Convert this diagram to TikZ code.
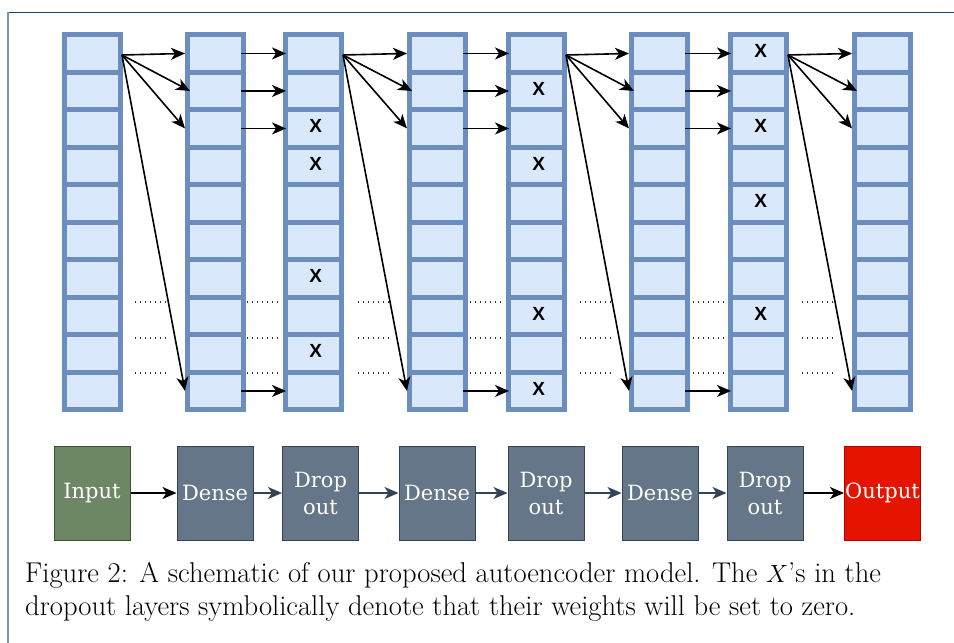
\documentclass[tikz,border=0pt]{standalone}
\usepackage{fontspec}
\usetikzlibrary{arrows.meta,calc}
\newfontfamily\boxfont{DejaVu Serif}
\newfontfamily\xfont{Liberation Sans}
\definecolor{cellfill}{HTML}{DAE8FC}
\definecolor{cellborder}{HTML}{6C8EBF}
\definecolor{slatefill}{HTML}{647687}
\definecolor{slatedark}{HTML}{314354}
\definecolor{greenfill}{HTML}{6D8764}
\definecolor{greendark}{HTML}{3A5431}
\definecolor{redfill}{HTML}{E51400}
\definecolor{reddark}{HTML}{B20000}
\definecolor{frametop}{HTML}{1B4679}
\definecolor{frameleft}{HTML}{8093AD}
\begin{document}
\begin{tikzpicture}[x=1pt,y=-1pt,
  colbox/.style={draw=none, fill=cellborder, minimum width=61pt, minimum height=380pt, inner sep=0pt, anchor=north west},
  cellbox/.style={fill=cellfill, minimum width=51pt, minimum height=32.5pt, inner sep=0pt, anchor=north west},
  xmark/.style={font=\xfont\bfseries\fontsize{19}{19}\selectfont, inner sep=0pt},
  link/.style={line width=1.6pt, -{Stealth[length=14pt,width=12pt,inset=4pt]}},
  dotrow/.style={line width=1.3pt, dash pattern=on 1.4pt off 3.6pt, black!80},
  layer/.style={minimum width=76pt, minimum height=94pt, inner sep=0pt, draw, line width=1pt, text=white, font=\boxfont\fontsize{21}{27}\selectfont, align=center},
  flow/.style={line width=1.7pt, -{Stealth[length=14pt,width=12pt,inset=4pt]}},
  captext/.style={anchor=base west, inner sep=0pt, font=\fontsize{28.6}{33}\selectfont}
]
\useasboundingbox (0,0) rectangle (954,643);
% frame
\draw[frametop, line width=1.5pt] (7,12.5) -- (954,12.5);
\draw[frameleft, line width=2pt] (7.5,12) -- (7.5,643);
% columns
\foreach \k/\xx in {1/62,2/185,3/283,4/407,5/506,6/629,7/728,8/852} {
  \node[colbox] (col\k) at (\xx,32) {};
  \foreach \j in {1,...,10} {
    \node[cellbox] (c\k-\j) at ({\xx+5},{37+37.5*(\j-1)}) {};
  }
  \coordinate (o\k) at ({\xx+60},55);
}
% X marks
\foreach \k/\j in {3/3,3/4,3/7,3/9,5/2,5/4,5/8,5/10,7/1,7/3,7/5,7/8}
  \node[xmark] (x\k-\j) at ($(c\k-\j.center)+(2,-2)$) {X};
% fan-out arrows
\foreach \a/\b in {1/2,3/4,5/6,7/8} {
  \draw[link] (o\a) -- (col\b.west |- c\b-1.center);
  \draw[link] (o\a) -- (c\b-2.west);
  \draw[link] (o\a) -- (col\b.west |- c\b-3.center);
  \draw[link] (o\a) -- (col\b.west |- c\b-10.center);
}
% straight arrows
\foreach \a/\b in {2/3,4/5,6/7} {
  \foreach \j in {1,2,3,10} {
    \draw[link] (c\a-\j.east) -- ($(col\b.west |- c\a-\j.east)+(3,0)$);
  }
}
% dotted rows
\foreach \xs in {135,247,358,470,580,693,802} {
  \foreach \yy in {302,338,373} {
    \draw[dotrow] (\xs,\yy) -- ({\xs+32},\yy);
  }
}
% layer boxes
\node[layer, fill=greenfill, draw=greendark] (in) at (92,493) {Input};
\node[layer, fill=slatefill, draw=slatedark] (d1) at (215,493) {Dense};
\node[layer, fill=slatefill, draw=slatedark] (p1) at (320.5,493) {Drop\\out};
\node[layer, fill=slatefill, draw=slatedark] (d2) at (437,493) {Dense};
\node[layer, fill=slatefill, draw=slatedark] (p2) at (546,493) {Drop\\out};
\node[layer, fill=slatefill, draw=slatedark] (d3) at (660,493) {Dense};
\node[layer, fill=slatefill, draw=slatedark] (p3) at (765,493) {Drop\\out};
\node[layer, fill=redfill, draw=reddark] (out) at (882.5,493) {Output};
\draw[flow, black] (in) -- (d1);
\draw[flow, slatedark] (d1) -- (p1);
\draw[flow, slatedark] (p1) -- (d2);
\draw[flow, slatedark] (d2) -- (p2);
\draw[flow, slatedark] (p2) -- (d3);
\draw[flow, slatedark] (d3) -- (p3);
\draw[flow, black] (p3) -- (out);
% caption
\node[captext] (cap1) at (25,582) {Figure 2: A schematic of our proposed autoencoder model. The $X$'s in the};
\node[captext] (cap2) at (25,615) {dropout layers symbolically denote that their weights will be set to zero.};
\end{tikzpicture}
\end{document}
